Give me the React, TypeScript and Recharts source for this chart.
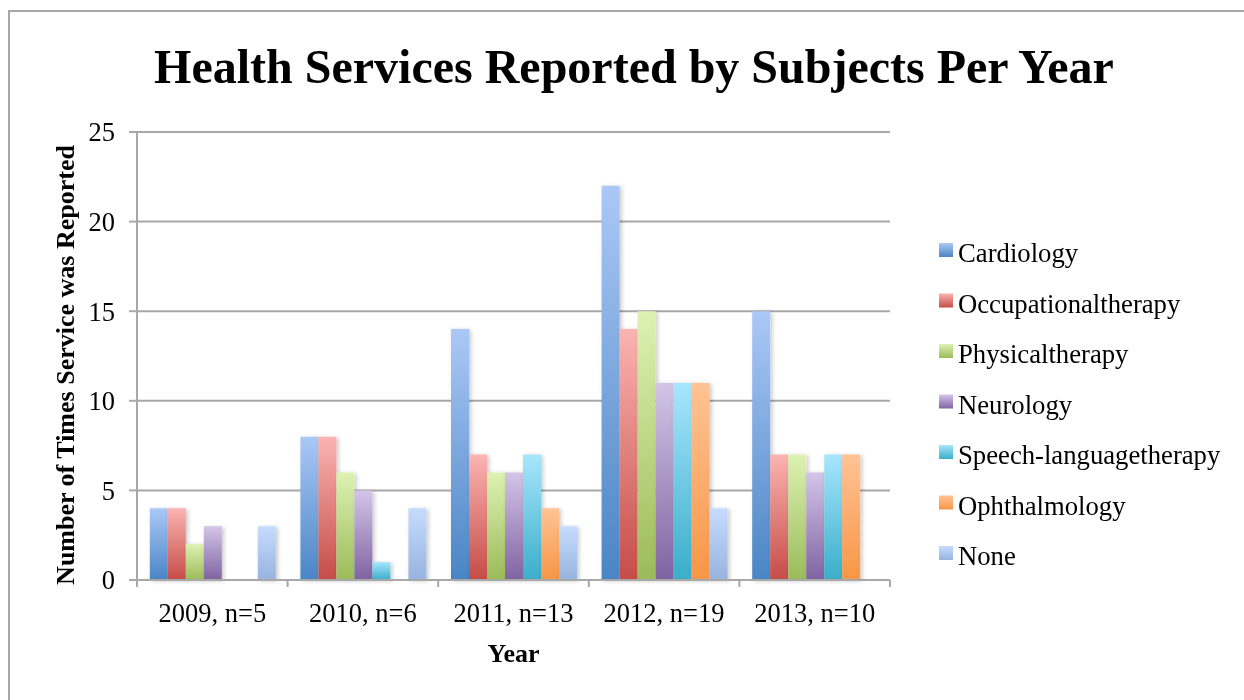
import React from 'react';
import { BarChart, Bar, XAxis, YAxis, CartesianGrid } from 'recharts';

// ---- data ----
const years = ['2009, n=5', '2010, n=6', '2011, n=13', '2012, n=19', '2013, n=10'];
const services = [
  'Cardiology',
  'Occupationaltherapy',
  'Physicaltherapy',
  'Neurology',
  'Speech-languagetherapy',
  'Ophthalmology',
  'None',
];
const cardiology = [4, 8, 14, 22, 15];
const occupationalTherapy = [4, 8, 7, 14, 7];
const physicalTherapy = [2, 6, 6, 15, 7];
const neurology = [3, 5, 6, 11, 6];
const speechTherapy = [0, 1, 7, 11, 7];
const ophthalmology = [0, 0, 4, 11, 7];
const none = [3, 4, 3, 4, 0];
const yTicks = [0, 5, 10, 15, 20, 25];

// gradient stops (top -> bottom) per series
const topColors = ['#abc8f6', '#fbb4b2', '#ddf2b2', '#d3c5e8', '#a8e6fd', '#ffc394', '#c6dcfd'];
const bottomColors = ['#4a85c5', '#c64c47', '#9bbb59', '#8063a1', '#3aaec9', '#f79646', '#97b3df'];

const seriesValues = [
  cardiology,
  occupationalTherapy,
  physicalTherapy,
  neurology,
  speechTherapy,
  ophthalmology,
  none,
];

const data = years.map((year, i) => {
  const row: Record<string, any> = { year };
  services.forEach((s, k) => {
    row[s] = seriesValues[k][i];
  });
  return row;
});

const FONT = "'Liberation Serif', 'Times New Roman', serif";
const GRID = '#a8a8a8';
const CHART_W = 1228;
const CHART_H = 684;
const X_TICK_SIZE = 6;
const X_TICK_MARGIN = 0;

const XTick = (props: any) => {
  const { x, y, payload, index } = props;
  const half = payload && payload.offset ? payload.offset : 753 / years.length / 2;
  const axisY = y - X_TICK_SIZE - X_TICK_MARGIN;
  return (
    <g>
      {index === 0 && (
        <line x1={x - half} x2={x - half} y1={axisY} y2={axisY + 7} stroke={GRID} strokeWidth={2} />
      )}
      <line x1={x + half} x2={x + half} y1={axisY} y2={axisY + 7} stroke={GRID} strokeWidth={2} />
      <text x={x} y={axisY + 42} textAnchor="middle" fontSize={26.5} fontFamily={FONT} fill="#000">
        {payload.value}
      </text>
    </g>
  );
};

const YLabel = (props: any) => {
  const vb = props.viewBox || { x: 49, y: 124, width: 80, height: 448 };
  const cx = vb.x + 8;
  const cy = vb.y + vb.height / 2 + 9;
  return (
    <text
      x={cx}
      y={cy}
      transform={`rotate(-90 ${cx} ${cy})`}
      textAnchor="middle"
      dominantBaseline="central"
      fontSize={26}
      fontWeight="bold"
      fontFamily={FONT}
      fill="#000"
    >
      Number of Times Service was Reported
    </text>
  );
};

const XLabel = (props: any) => {
  const vb = props.viewBox || { x: 129, y: 572, width: 753, height: 40 };
  return (
    <text
      x={vb.x + vb.width / 2}
      y={vb.y + 82}
      textAnchor="middle"
      fontSize={26}
      fontWeight="bold"
      fontFamily={FONT}
      fill="#000"
    >
      Year
    </text>
  );
};

export default function App() {
  return (
    <div style={{ position: 'relative', width: CHART_W, height: CHART_H }}>
      {/* outer frame (top/left edges only visible in the reference) */}
      <div
        style={{
          position: 'fixed',
          top: 10,
          left: 8,
          width: 1240,
          height: 700,
          borderTop: `2px solid ${GRID}`,
          borderLeft: `2px solid ${GRID}`,
          pointerEvents: 'none',
        }}
      />
      <div style={{ position: 'absolute', top: 0, left: 0 }}>
        <BarChart
          width={CHART_W}
          height={CHART_H}
          data={data}
          margin={{ top: 124, right: 346, bottom: 72, left: 49 }}
          barCategoryGap="8.5%"
          barGap={0}
        >
          <defs>
            {services.map((s, k) => (
              <linearGradient key={s} id={`grad-${k}`} x1="0" y1="0" x2="0" y2="1">
                <stop offset="0%" stopColor={topColors[k]} />
                <stop offset="100%" stopColor={bottomColors[k]} />
              </linearGradient>
            ))}
            <filter id="barShadow" x="-20%" y="-10%" width="150%" height="130%">
              <feDropShadow dx="2" dy="1" stdDeviation="2" floodColor="#000" floodOpacity="0.22" />
            </filter>
          </defs>
          <CartesianGrid vertical={false} stroke={GRID} strokeWidth={2} />
          <XAxis
            dataKey="year"
            interval={0}
            height={40}
            tickSize={X_TICK_SIZE}
            tickMargin={X_TICK_MARGIN}
            tickLine={false}
            axisLine={{ stroke: GRID, strokeWidth: 2 }}
            tick={<XTick />}
            label={<XLabel />}
          />
          <YAxis
            width={80}
            domain={[0, 25]}
            ticks={yTicks}
            interval={0}
            tickSize={8}
            tickMargin={14}
            axisLine={{ stroke: GRID, strokeWidth: 2 }}
            tickLine={{ stroke: GRID, strokeWidth: 2 }}
            tick={{ fill: '#000', fontSize: 26.5, fontFamily: FONT }}
            label={<YLabel />}
          />
          {services.map((s, k) => (
            <Bar
              key={s}
              dataKey={s}
              fill={`url(#grad-${k})`}
              filter="url(#barShadow)"
              isAnimationActive={false}
            />
          ))}
        </BarChart>
      </div>
      <svg
        width={CHART_W}
        height={CHART_H}
        style={{ position: 'absolute', top: 0, left: 0, pointerEvents: 'none' }}
      >
        <defs>
          {services.map((s, k) => (
            <linearGradient key={s} id={`lgrad-${k}`} x1="0" y1="0" x2="0" y2="1">
              <stop offset="0%" stopColor={topColors[k]} />
              <stop offset="100%" stopColor={bottomColors[k]} />
            </linearGradient>
          ))}
        </defs>
        <text x={626} y={75} textAnchor="middle" fontSize={48} fontWeight="bold" fontFamily={FONT} fill="#000">
          Health Services Reported by Subjects Per Year
        </text>
        {services.map((s, k) => {
          const base = 254 + k * 50.5;
          return (
            <g key={s}>
              <rect x={931} y={base - 19} width={14} height={14} fill={`url(#lgrad-${k})`} />
              <text x={950} y={base} fontSize={26.7} fontFamily={FONT} fill="#000">
                {s}
              </text>
            </g>
          );
        })}
      </svg>
    </div>
  );
}
